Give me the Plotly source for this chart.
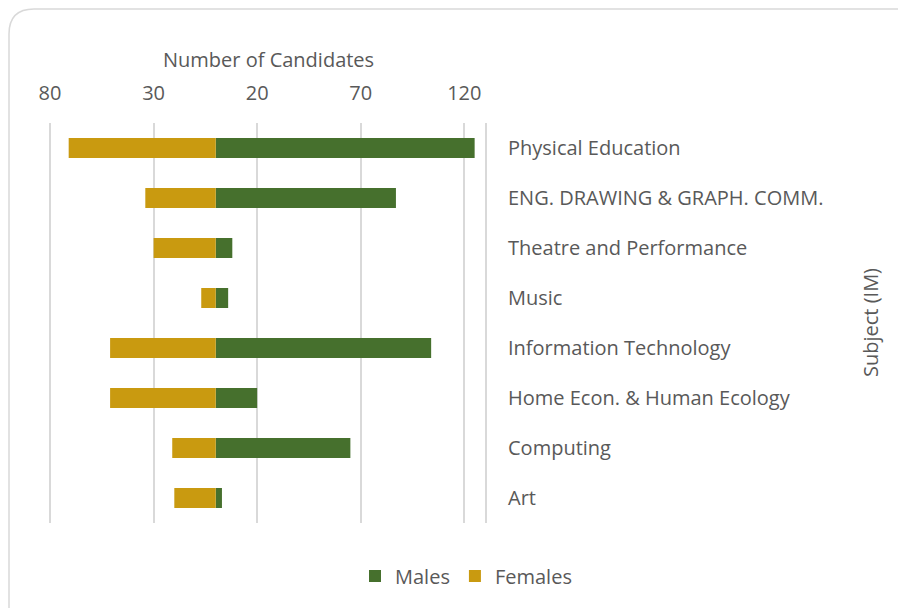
import plotly.graph_objects as go

# ---- data ----
subjects = ["Physical Education", "ENG. DRAWING & GRAPH. COMM.", "Theatre and Performance",
            "Music", "Information Technology", "Home Econ. & Human Ecology", "Computing", "Art"]
males = [125, 87, 8, 6, 104, 20, 65, 3]
females = [71, 34, 30, 7, 51, 51, 21, 20]
tick_vals = [-80, -30, 20, 70, 120]
tick_text = ["80", "30", "20", "70", "120"]

# page body has an 8px default margin, so draw in a figure 8px smaller
OFF = 8
W, H = 906 - OFF, 608 - OFF
L, T = 49 - OFF, 123 - OFF
R = W - (485 - OFF)
B = H - (523 - OFF)
PW, PH = W - L - R, H - T - B

def px(x):
    return (x - OFF - L) / PW

def py(y):
    return 1 - (y - OFF - T) / PH

FONT = "Open Sans, Lato, sans-serif"
GREY = "#595959"
FS = 20

fig = go.Figure()
fig.add_trace(go.Bar(y=subjects, x=males, orientation="h", name="Males",
                     marker=dict(color="#46702d", line=dict(width=0))))
fig.add_trace(go.Bar(y=subjects, x=[-v for v in females], orientation="h", name="Females",
                     marker=dict(color="#c99a10", line=dict(width=0))))

# rounded outer border
x0, y0, x1, y1, r = 9, 9, 960, 660, 25
path = (f"M {px(x0)},{py(y0 + r)} Q {px(x0)},{py(y0)} {px(x0 + r)},{py(y0)} "
        f"L {px(x1 - r)},{py(y0)} Q {px(x1)},{py(y0)} {px(x1)},{py(y0 + r)} "
        f"L {px(x1)},{py(y1)} L {px(x0)},{py(y1)} Z")

fig.update_layout(
    width=W, height=H,
    margin=dict(l=L, r=R, t=T, b=B, autoexpand=False),
    barmode="relative", bargap=0.6,
    plot_bgcolor="white", paper_bgcolor="white",
    font=dict(family=FONT, color=GREY, size=FS),
    xaxis=dict(side="top", range=[-80.5, 130], tickvals=tick_vals, ticktext=tick_text,
               showgrid=True, gridcolor="#d9d9d9", gridwidth=1.5, zeroline=False,
               showline=False, ticks="", ticklabelstandoff=18,
               tickfont=dict(size=FS, color=GREY)),
    yaxis=dict(side="right", autorange="reversed", showgrid=False, zeroline=False,
               showline=True, linecolor="#d9d9d9", linewidth=2, ticks="",
               ticklabelstandoff=17, tickfont=dict(size=FS, color=GREY)),
    legend=dict(orientation="h", x=px(466), xanchor="center", y=py(576), yanchor="middle",
                font=dict(size=FS, color=GREY), traceorder="normal"),
    showlegend=True,
    shapes=[dict(type="path", xref="paper", yref="paper", path=path,
                 line=dict(color="#d9d9d9", width=1.5), layer="below")],
    annotations=[
        dict(text="Number of Candidates", xref="paper", yref="paper", x=px(268), y=py(59),
             xanchor="center", yanchor="middle", showarrow=False,
             font=dict(size=FS, color=GREY)),
        dict(text="Subject (IM)", xref="paper", yref="paper", x=px(870), y=py(323),
             xanchor="center", yanchor="middle", showarrow=False, textangle=-90,
             font=dict(size=FS, color=GREY)),
    ],
)

fig.write_html("out.html")
